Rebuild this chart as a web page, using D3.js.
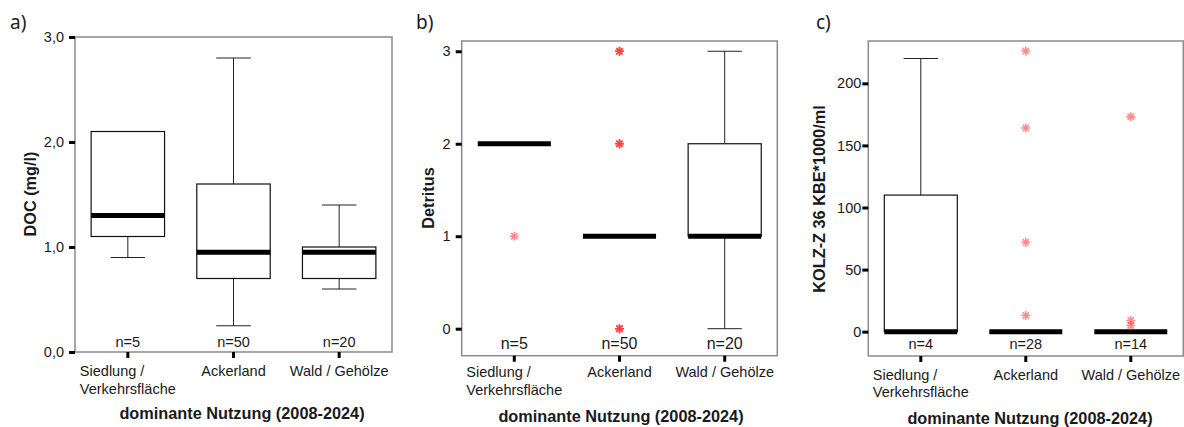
<!DOCTYPE html>
<html>
<head>
<meta charset="utf-8">
<script src="https://cdn.jsdelivr.net/npm/d3@7"></script>
<style>
  html, body { margin: 0; padding: 0; background: #fff; }
  svg { display: block; font-family: "Liberation Sans", Arial, sans-serif; }
</style>
</head>
<body>
<svg id="chart" width="1184" height="427"></svg>
<script>
// ---------------- DATA ----------------
const categories = ["Siedlung / Verkehrsfläche", "Ackerland", "Wald / Gehölze"];
const categoryLabelLines = [["Siedlung /", "Verkehrsfläche"], ["Ackerland"], ["Wald / Gehölze"]];
const xAxisTitle = "dominante Nutzung (2008-2024)";

// a) DOC
const docMin    = [0.9, 0.25, 0.6];
const docQ1     = [1.1, 0.7, 0.7];
const docMedian = [1.3, 0.95, 0.95];
const docQ3     = [2.1, 1.6, 1.0];
const docMax    = [2.1, 2.8, 1.4];
const docN      = [5, 50, 20];
const docOutliers = [[], [], []];
const docTicks = [0, 1, 2, 3];
const docTickLabels = ["0,0", "1,0", "2,0", "3,0"];

// b) Detritus
const detMin    = [2, 1, 0];
const detQ1     = [2, 1, 1];
const detMedian = [2, 1, 1];
const detQ3     = [2, 1, 2];
const detMax    = [2, 1, 3];
const detN      = [5, 50, 20];
const detOutliers = [[1], [3, 3, 3, 2, 2, 2, 0, 0, 0], []];
const detTicks = [0, 1, 2, 3];
const detTickLabels = ["0", "1", "2", "3"];

// c) KOLZ-Z 36
const kolzMin    = [0, 0, 0];
const kolzQ1     = [0, 0, 0];
const kolzMedian = [0, 0, 0];
const kolzQ3     = [110, 0, 0];
const kolzMax    = [220, 0, 0];
const kolzN      = [4, 28, 14];
const kolzOutliers = [[], [226, 164, 72, 13], [173, 9, 5]];
const kolzTicks = [0, 50, 100, 150, 200];
const kolzTickLabels = ["0", "50", "100", "150", "200"];

// ---------------- DRAW ----------------
const svg = d3.select("#chart");
const TEXT = "#1a1a1a";

function asteriskPath(r) {
  let d = "";
  for (let k = 0; k < 4; k++) {
    const a = k * Math.PI / 4;
    const dx = r * Math.cos(a), dy = r * Math.sin(a);
    d += `M${-dx},${-dy}L${dx},${dy}`;
  }
  return d;
}

function panel(cfg) {
  const g = svg.append("g");
  const x = d3.scaleBand().domain(categories).range([cfg.left, cfg.right]).padding(0);
  const y = d3.scaleLinear().domain(cfg.domain).range([cfg.bottom, cfg.top]);
  const bw = x.bandwidth() * 0.695;
  const cw = bw * 0.47;

  // panel letter
  g.append("text").attr("x", cfg.letterX).attr("y", 29)
    .attr("font-family", "'Noto Sans', 'Open Sans', sans-serif")
    .attr("font-size", 19).attr("fill", TEXT).text(cfg.letter);

  // frame
  g.append("rect").attr("x", cfg.left).attr("y", cfg.top)
    .attr("width", cfg.right - cfg.left).attr("height", cfg.bottom - cfg.top)
    .attr("fill", "none").attr("stroke", "#8a8a8a").attr("stroke-width", 1.5);

  // y axis
  const yAxis = d3.axisLeft(y).tickValues(cfg.ticks).tickSize(6).tickPadding(cfg.tickPad)
    .tickFormat((d, i) => cfg.tickLabels[i]);
  const ya = g.append("g").attr("transform", `translate(${cfg.left},0)`).call(yAxis);
  ya.select(".domain").remove();
  ya.selectAll(".tick line").attr("stroke", "#000").attr("stroke-width", 3);
  ya.selectAll(".tick text").attr("font-size", 14.5).attr("fill", TEXT)
    .attr("font-family", "'Liberation Sans', Arial, sans-serif");

  // x axis
  const xAxis = d3.axisBottom(x).tickSize(6).tickFormat("");
  const xa = g.append("g").attr("transform", `translate(0,${cfg.bottom})`).call(xAxis);
  xa.select(".domain").remove();
  xa.selectAll(".tick line").attr("stroke", "#000").attr("stroke-width", 3);

  categories.forEach((c, i) => {
    const cx = x(c) + x.bandwidth() / 2;
    const lines = categoryLabelLines[i];
    const t = g.append("text").attr("font-size", 14.5).attr("fill", TEXT)
      .attr("font-family", "'Liberation Sans', Arial, sans-serif");
    if (lines.length === 1) {
      t.attr("text-anchor", "middle").attr("x", cx).attr("y", cfg.lab1).text(lines[0]);
    } else {
      const tmp = g.append("text").attr("font-size", 14.5)
        .attr("font-family", "'Liberation Sans', Arial, sans-serif").text(lines[1]);
      const w = tmp.node().getComputedTextLength();
      tmp.remove();
      lines.forEach((ln, j) => {
        t.append("tspan").attr("x", cx - w / 2).attr("y", j === 0 ? cfg.lab1 : cfg.lab2).text(ln);
      });
    }
  });

  // x title
  g.append("text").attr("x", cfg.titleX).attr("y", cfg.titleY).attr("text-anchor", "middle")
    .attr("font-size", 16.3).attr("font-weight", "bold").attr("fill", TEXT).text(xAxisTitle);

  // y title
  g.append("text").attr("transform", `translate(${cfg.yTitleX},${cfg.yTitleY}) rotate(-90)`)
    .attr("text-anchor", "middle").attr("dy", "0.35em")
    .attr("font-size", 16.3).attr("font-weight", "bold").attr("fill", TEXT).text(cfg.yTitle);

  // boxes
  categories.forEach((c, i) => {
    const cx = x(c) + x.bandwidth() / 2;
    const s = cfg.stats;
    const mn = s.min[i], q1 = s.q1[i], md = s.median[i], q3 = s.q3[i], mx = s.max[i];
    const wstroke = "#222";
    if (mx > q3) {
      g.append("line").attr("x1", cx).attr("x2", cx).attr("y1", y(q3)).attr("y2", y(mx))
        .attr("stroke", wstroke).attr("stroke-width", 1);
      g.append("line").attr("x1", cx - cw / 2).attr("x2", cx + cw / 2).attr("y1", y(mx)).attr("y2", y(mx))
        .attr("stroke", wstroke).attr("stroke-width", 1);
    }
    if (mn < q1) {
      g.append("line").attr("x1", cx).attr("x2", cx).attr("y1", y(q1)).attr("y2", y(mn))
        .attr("stroke", wstroke).attr("stroke-width", 1);
      g.append("line").attr("x1", cx - cw / 2).attr("x2", cx + cw / 2).attr("y1", y(mn)).attr("y2", y(mn))
        .attr("stroke", wstroke).attr("stroke-width", 1);
    }
    if (q3 > q1) {
      g.append("rect").attr("x", cx - bw / 2).attr("y", y(q3))
        .attr("width", bw).attr("height", y(q1) - y(q3))
        .attr("fill", "#fff").attr("stroke", "#111").attr("stroke-width", 1.2);
    }
    g.append("line").attr("x1", cx - bw / 2).attr("x2", cx + bw / 2)
      .attr("y1", y(md)).attr("y2", y(md))
      .attr("stroke", "#000").attr("stroke-width", 5);

    // outliers
    s.outliers[i].forEach(v => {
      g.append("path").attr("d", asteriskPath(4.5))
        .attr("transform", `translate(${cx},${y(v)})`)
        .attr("stroke", "#ff3030").attr("stroke-width", 1.6).attr("fill", "none")
        .attr("opacity", 0.55);
    });

    // n label
    g.append("text").attr("x", cx).attr("y", cfg.nY).attr("text-anchor", "middle")
      .attr("font-size", cfg.nSize).attr("fill", TEXT).text("n=" + s.n[i]);
  });
}

panel({
  letter: "a)", letterX: 10,
  left: 75, right: 392, top: 37, bottom: 352,
  domain: [0, 3], ticks: docTicks, tickLabels: docTickLabels, tickPad: 5,
  lab1: 376, lab2: 394, titleX: 242, titleY: 419,
  yTitle: "DOC (mg/l)", yTitleX: 30, yTitleY: 194,
  nY: 347, nSize: 14.5,
  stats: { min: docMin, q1: docQ1, median: docMedian, q3: docQ3, max: docMax, n: docN, outliers: docOutliers }
});

panel({
  letter: "b)", letterX: 416,
  left: 461.7, right: 777.3, top: 41, bottom: 355.7,
  domain: [-0.292, 3.111], ticks: detTicks, tickLabels: detTickLabels, tickPad: 5,
  lab1: 377, lab2: 395, titleX: 621, titleY: 422,
  yTitle: "Detritus", yTitleX: 428, yTitleY: 198,
  nY: 349, nSize: 16,
  stats: { min: detMin, q1: detQ1, median: detMedian, q3: detQ3, max: detMax, n: detN, outliers: detOutliers }
});

panel({
  letter: "c)", letterX: 816,
  left: 868.3, right: 1183.3, top: 41, bottom: 356,
  domain: [-19.6, 234.1], ticks: kolzTicks, tickLabels: kolzTickLabels, tickPad: 1,
  lab1: 380, lab2: 397, titleX: 1030, titleY: 424,
  yTitle: "KOLZ-Z 36 KBE*1000/ml", yTitleX: 819, yTitleY: 199,
  nY: 349, nSize: 14.5,
  stats: { min: kolzMin, q1: kolzQ1, median: kolzMedian, q3: kolzQ3, max: kolzMax, n: kolzN, outliers: kolzOutliers }
});
</script>
</body>
</html>
